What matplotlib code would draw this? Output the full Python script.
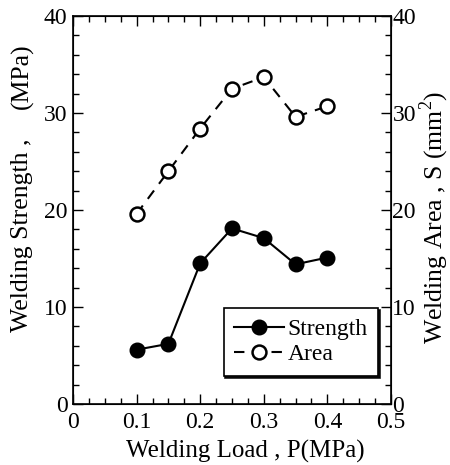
import matplotlib
matplotlib.use("Agg")
import matplotlib.pyplot as plt
from matplotlib.ticker import MultipleLocator

plt.rcParams['font.family'] = ['Liberation Serif', 'DejaVu Serif']
plt.rcParams['mathtext.fontset'] = 'custom'
plt.rcParams['mathtext.rm'] = 'Liberation Serif'

load = [0.1, 0.15, 0.2, 0.25, 0.3, 0.35, 0.4]
strength = [5.6, 6.2, 14.5, 18.1, 17.1, 14.4, 15.1]
area = [19.6, 24.0, 28.4, 32.5, 33.7, 29.6, 30.7]
xticks = [0, 0.1, 0.2, 0.3, 0.4, 0.5]
xticklabels = ['0', '0.1', '0.2', '0.3', '0.4', '0.5']

fig = plt.figure(figsize=(4.5, 4.65), dpi=100)
ax = fig.add_axes([73/450, 1-404/465, 318/450, 388/465])
ax2 = ax.twinx()

l1, = ax.plot(load, strength, '-', color='black', lw=1.5, marker='o', ms=10.5,
              mfc='black', mec='black', label='Strength', zorder=3)
l2, = ax2.plot(load, area, '--', color='black', lw=1.5, marker='o', ms=10,
               mfc='white', mec='black', mew=1.8, dashes=(5, 4), label='Area')

for a in (ax, ax2):
    a.set_ylim(0, 40)
    a.yaxis.set_major_locator(MultipleLocator(10))
    a.yaxis.set_minor_locator(MultipleLocator(2))
    a.tick_params(which='both', direction='in', labelsize=17)
    a.tick_params(which='major', length=7, width=1)
    a.tick_params(which='minor', length=4, width=1)
ax.set_xlim(0, 0.5)
ax.xaxis.set_minor_locator(MultipleLocator(0.025))
ax.set_xticks(xticks)
ax.set_xticklabels(xticklabels)
ax.tick_params(axis='x', which='both', top=True, pad=6)
ax.tick_params(axis='y', pad=4)
ax2.tick_params(axis='y', pad=1)
for s in ax.spines.values():
    s.set_linewidth(1.2)

# axis labels placed to match reference positions
fig.text(245/450, 1-458/465, 'Welding Load , P(MPa)', fontsize=18,
         ha='center', va='baseline')
fig.text(22/450, 1-332/465, 'Welding Strength ,', fontsize=18.5,
         rotation=90, ha='center', va='bottom')
fig.text(22/450, 1-43/465, '(MPa)', fontsize=18.5,
         rotation=90, ha='center', va='top')
fig.text(434/450, 1-217/465, 'Welding Area , S (mm$^2$)', fontsize=18.5,
         rotation=90, ha='center', va='center')

leg = ax2.legend([l1, l2], ['Strength', 'Area'], loc='lower right',
                 bbox_to_anchor=(0.96, 0.072), fontsize=17, frameon=True,
                 fancybox=False,
                 shadow={'ox': 1.2, 'oy': -1.2, 'color': 'black', 'alpha': 0.9},
                 edgecolor='black',
                 handlelength=2.1, handletextpad=0.15, borderpad=0.45,
                 labelspacing=0.15, borderaxespad=0)
leg.get_frame().set_linewidth(1.2)

fig.savefig('out.png', dpi=100)
